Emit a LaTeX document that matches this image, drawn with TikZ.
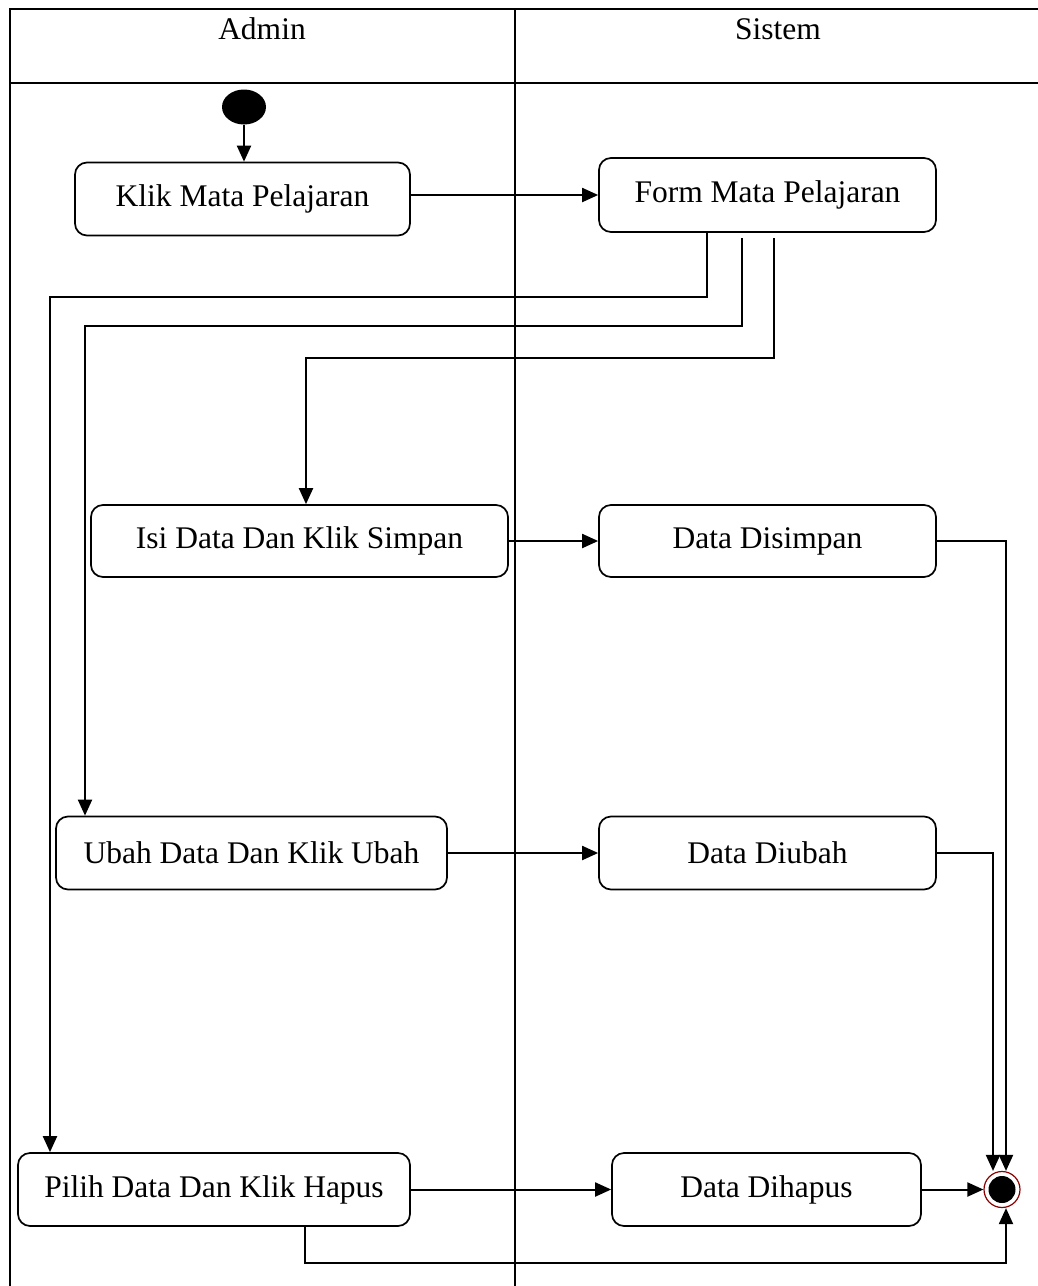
\documentclass[tikz,border=0pt]{standalone}
\usepackage{fontspec}
\setmainfont{Liberation Serif}
\usetikzlibrary{arrows.meta,shapes.geometric}
\begin{document}
\begin{tikzpicture}[x=1pt,y=-1pt,
  txt/.style={font=\fontsize{31.5}{36}\selectfont},
  act/.style={txt,draw,line width=1.7pt,rounded corners=12pt,minimum height=73pt,inner sep=0pt},
  lane/.style={line width=2.2pt},
  flow/.style={line width=2pt,-{Triangle[length=16pt,width=14pt]}}]

\useasboundingbox (0,0) rectangle (1038,1286);
\clip (0,0) rectangle (1038,1286);

% swimlane frame
\draw[lane] (10,1300) -- (10,9) -- (1050,9);
\draw[lane] (10,83) -- (1050,83);
\draw[lane] (515,9) -- (515,1300);
\node[txt] (hadmin) at (262,29) {Admin};
\node[txt] (hsistem) at (778,29) {Sistem};

% activities
\node[act,minimum width=335pt] (klik) at (242.5,199) {Klik Mata Pelajaran};
\node[act,minimum width=337pt,minimum height=74pt] (form) at (767.5,195) {Form Mata Pelajaran};
\node[act,minimum width=417pt,minimum height=72pt] (isi) at (299.5,541) {Isi Data Dan Klik Simpan};
\node[act,minimum width=337pt,minimum height=72pt] (simpan) at (767.5,541) {Data Disimpan};
\node[act,minimum width=391pt] (ubah) at (251.5,853) {Ubah Data Dan Klik Ubah};
\node[act,minimum width=337pt] (diubah) at (767.5,853) {Data Diubah};
\node[act,minimum width=392pt] (pilih) at (214,1189.5) {Pilih Data Dan Klik Hapus};
\node[act,minimum width=309pt] (hapus) at (766.5,1189.5) {Data Dihapus};

% initial and final states
\node[ellipse,fill=black,minimum width=44pt,minimum height=35pt,inner sep=0pt] (start) at (244,107) {};
\node[circle,draw=red!55!black,line width=1.2pt,fill=white,minimum size=36pt,inner sep=0pt,
  path picture={\fill[black] (path picture bounding box.center) circle (13.5pt);}] (fin) at (1002,1189.5) {};

% bend points of the routed connectors
\coordinate (k1) at (50,297);
\coordinate (k2) at (85,326);
\coordinate (k3) at (306,358);
\coordinate (k4) at (305,1263);

% transitions
\draw[flow] (start.south) -- (start.south |- klik.north);
\draw[flow] (klik.east |- form.west) -- (form.west);
\draw[flow] ([xshift=-60.5pt]form.south) |- (k1) -- (k1 |- pilih.north);
\draw[flow] ([xshift=-25.5pt,yshift=-5pt]form.south) |- (k2) -- (k2 |- ubah.north);
\draw[flow] ([xshift=6.5pt,yshift=-5pt]form.south) |- (k3) -- (k3 |- isi.north);
\draw[flow] (isi.east) -- (simpan.west);
\draw[flow] (ubah.east) -- (diubah.west);
\draw[flow] (pilih.east) -- (hapus.west);
\draw[flow] (hapus.east) -- (fin.west);
\draw[flow] (simpan.east) -| ([xshift=4pt]fin.north);
\draw[flow] (diubah.east) -| ([xshift=-9pt]fin.north);
\draw[flow] ([xshift=91pt]pilih.south) |- (k4) -| ([xshift=4pt]fin.south);
\end{tikzpicture}
\end{document}
